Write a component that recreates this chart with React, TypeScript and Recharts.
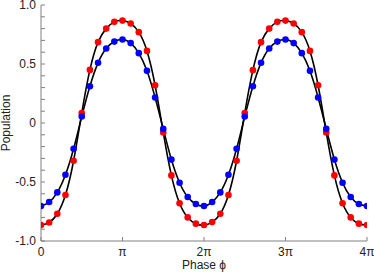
import React from 'react';
import { LineChart, Line, XAxis, YAxis, Label } from 'recharts';

// Phase in units of pi
const phase = [
  0, 0.1, 0.2, 0.3, 0.4, 0.5, 0.6, 0.7, 0.8, 0.9,
  1.0, 1.1, 1.2, 1.3, 1.4, 1.5, 1.6, 1.7, 1.8, 1.9,
  2.0, 2.1, 2.2, 2.3, 2.4, 2.5, 2.6, 2.7, 2.8, 2.9,
  3.0, 3.1, 3.2, 3.3, 3.4, 3.5, 3.6, 3.7, 3.8, 3.9, 4.0,
];

const redPopulation = [
  -0.865, -0.843, -0.769, -0.61, -0.32, 0.084, 0.45, 0.685, 0.8, 0.857,
  0.868, 0.843, 0.77, 0.611, 0.32, -0.08, -0.444, -0.68, -0.8, -0.853,
  -0.865, -0.84, -0.769, -0.61, -0.32, 0.084, 0.448, 0.685, 0.8, 0.857,
  0.868, 0.843, 0.77, 0.611, 0.32, -0.08, -0.444, -0.68, -0.8, -0.853, -0.865,
];

const bluePopulation = [
  -0.704, -0.67, -0.588, -0.439, -0.218, 0.055, 0.312, 0.51, 0.631, 0.69,
  0.707, 0.677, 0.592, 0.442, 0.216, -0.05, -0.31, -0.506, -0.627, -0.687,
  -0.704, -0.67, -0.588, -0.439, -0.218, 0.055, 0.312, 0.51, 0.631, 0.69,
  0.707, 0.677, 0.592, 0.442, 0.216, -0.05, -0.31, -0.506, -0.627, -0.687, -0.704,
];

const xTickValues = [0, 1, 2, 3, 4];
const xTickLabels = ['0', 'π', '2π', '3π', '4π'];

const yTickValues = [-1, -0.9, -0.8, -0.7, -0.6, -0.5, -0.4, -0.3, -0.2, -0.1, 0, 0.1, 0.2, 0.3, 0.4, 0.5, 0.6, 0.7, 0.8, 0.9, 1];
const yLabelValues = [-1, -0.5, 0, 0.5, 1];
const yLabelTexts = ['-1.0', '-0.5', '0', '0.5', '1.0'];

const data = phase.map((p, i) => ({ phase: p, red: redPopulation[i], blue: bluePopulation[i] }));

const AXIS = '#808080';
const TEXT = '#222';
const FONT = '"Liberation Sans", Arial, Helvetica, sans-serif';

const xFmt = (v: number) => {
  const i = xTickValues.findIndex((t) => Math.abs(t - v) < 1e-6);
  return i >= 0 ? xTickLabels[i] : '';
};
const yFmt = (v: number) => {
  const i = yLabelValues.findIndex((t) => Math.abs(t - v) < 1e-6);
  return i >= 0 ? yLabelTexts[i] : '';
};
const blank = () => '';

export default function App() {
  return (
    <div style={{ position: 'absolute', left: 0, top: 0, fontFamily: FONT }}>
      <LineChart width={374} height={274} data={data} margin={{ top: 5, right: 7, left: 0, bottom: 0 }}>
        <XAxis
          xAxisId="b"
          dataKey="phase"
          type="number"
          domain={[0, 4]}
          ticks={xTickValues}
          interval={0}
          tickFormatter={xFmt}
          height={33}
          stroke={AXIS}
          tickSize={-4}
          tickMargin={10}
          tick={{ fill: TEXT, fontSize: 12, fontFamily: FONT }}
          allowDataOverflow
        >
          <Label value="Phase ϕ" position="insideBottom" offset={5} fill={TEXT} fontSize={12} fontFamily={FONT} />
        </XAxis>
        <XAxis
          xAxisId="t"
          orientation="top"
          dataKey="phase"
          type="number"
          domain={[0, 4]}
          ticks={xTickValues}
          interval={0}
          tickFormatter={blank}
          height={0}
          stroke={AXIS}
          tickSize={-4}
          allowDataOverflow
        />
        <YAxis
          yAxisId="l"
          type="number"
          domain={[-1, 1]}
          ticks={yTickValues}
          interval={0}
          tickFormatter={yFmt}
          width={41}
          stroke={AXIS}
          tickSize={-4}
          tickMargin={9}
          tick={{ fill: TEXT, fontSize: 12, fontFamily: FONT }}
          allowDataOverflow
        >
          <Label
            value="Population"
            angle={-90}
            position="insideLeft"
            offset={6}
            fill={TEXT}
            fontSize={12}
            fontFamily={FONT}
            style={{ textAnchor: 'middle' }}
          />
        </YAxis>
        <YAxis
          yAxisId="r"
          orientation="right"
          type="number"
          domain={[-1, 1]}
          ticks={yTickValues}
          interval={0}
          tickFormatter={blank}
          width={0}
          stroke={AXIS}
          tickSize={-4}
          allowDataOverflow
        />
        <Line xAxisId="b" yAxisId="l" type="natural" dataKey="red" stroke="#000" strokeWidth={1.6} dot={false} activeDot={false} isAnimationActive={false} />
        <Line xAxisId="b" yAxisId="l" type="natural" dataKey="blue" stroke="#000" strokeWidth={1.6} dot={false} activeDot={false} isAnimationActive={false} />
        <Line xAxisId="b" yAxisId="l" dataKey="red" stroke="none" dot={{ r: 3.3, fill: '#ff0000', stroke: 'none' }} activeDot={false} isAnimationActive={false} />
        <Line xAxisId="b" yAxisId="l" dataKey="blue" stroke="none" dot={{ r: 3.3, fill: '#0000ff', stroke: 'none' }} activeDot={false} isAnimationActive={false} />
      </LineChart>
    </div>
  );
}
